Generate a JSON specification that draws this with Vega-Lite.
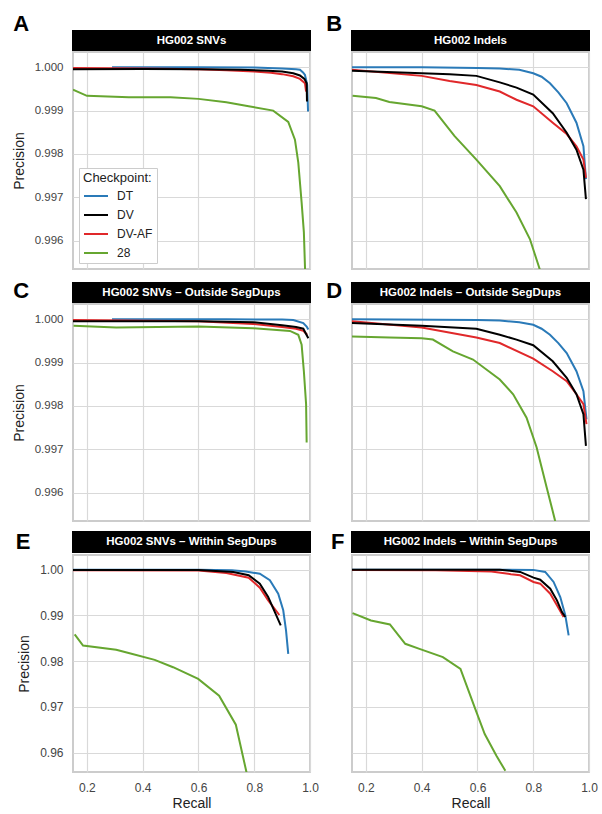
{
  "$schema": "https://vega.github.io/schema/vega-lite/v6.json",
  "padding": {"left": 11, "top": 11, "right": 5, "bottom": 4},
  "config": {
    "font": "Liberation Sans",
    "view": {"stroke": "#cccccc", "strokeWidth": 2},
    "axis": {"grid": true, "gridColor": "#d9d9d9", "gridWidth": 1.2, "ticks": false, "domain": false, "labelFontSize": 12, "labelColor": "#444444", "titleFontSize": 14, "titleFontWeight": "normal", "titleColor": "#222222", "labelPadding": 10, "labelFlush": false, "labelOverlap": false},
    "line": {"strokeWidth": 2, "clip": true}
  },
  "datasets": {
    "A": [
      {"checkpoint": "28", "recall": 0.15, "precision": 0.99948}, {"checkpoint": "28", "recall": 0.2, "precision": 0.99934}, {"checkpoint": "28", "recall": 0.35, "precision": 0.99931}, {"checkpoint": "28", "recall": 0.5, "precision": 0.99931}, {"checkpoint": "28", "recall": 0.6, "precision": 0.99927}, {"checkpoint": "28", "recall": 0.7, "precision": 0.99919}, {"checkpoint": "28", "recall": 0.78, "precision": 0.9991}, {"checkpoint": "28", "recall": 0.868, "precision": 0.999}, {"checkpoint": "28", "recall": 0.922, "precision": 0.99874}, {"checkpoint": "28", "recall": 0.946, "precision": 0.99833}, {"checkpoint": "28", "recall": 0.958, "precision": 0.9978}, {"checkpoint": "28", "recall": 0.97, "precision": 0.99688}, {"checkpoint": "28", "recall": 0.978, "precision": 0.9962}, {"checkpoint": "28", "recall": 0.984, "precision": 0.995},
      {"checkpoint": "DT", "recall": 0.29, "precision": 1.0}, {"checkpoint": "DT", "recall": 0.6, "precision": 1.0}, {"checkpoint": "DT", "recall": 0.8, "precision": 0.99999}, {"checkpoint": "DT", "recall": 0.9, "precision": 0.99997}, {"checkpoint": "DT", "recall": 0.95, "precision": 0.99995}, {"checkpoint": "DT", "recall": 0.964, "precision": 0.99994}, {"checkpoint": "DT", "recall": 0.975, "precision": 0.99988}, {"checkpoint": "DT", "recall": 0.982, "precision": 0.99982}, {"checkpoint": "DT", "recall": 0.99, "precision": 0.99959}, {"checkpoint": "DT", "recall": 0.993, "precision": 0.99898},
      {"checkpoint": "DV-AF", "recall": 0.15, "precision": 0.99998}, {"checkpoint": "DV-AF", "recall": 0.4, "precision": 0.99997}, {"checkpoint": "DV-AF", "recall": 0.6, "precision": 0.99995}, {"checkpoint": "DV-AF", "recall": 0.7, "precision": 0.99993}, {"checkpoint": "DV-AF", "recall": 0.8, "precision": 0.9999}, {"checkpoint": "DV-AF", "recall": 0.86, "precision": 0.99987}, {"checkpoint": "DV-AF", "recall": 0.9, "precision": 0.99984}, {"checkpoint": "DV-AF", "recall": 0.94, "precision": 0.99979}, {"checkpoint": "DV-AF", "recall": 0.964, "precision": 0.99973}, {"checkpoint": "DV-AF", "recall": 0.982, "precision": 0.99963}, {"checkpoint": "DV-AF", "recall": 0.986, "precision": 0.99944},
      {"checkpoint": "DV", "recall": 0.15, "precision": 0.99995}, {"checkpoint": "DV", "recall": 0.4, "precision": 0.99996}, {"checkpoint": "DV", "recall": 0.6, "precision": 0.99995}, {"checkpoint": "DV", "recall": 0.75, "precision": 0.99994}, {"checkpoint": "DV", "recall": 0.85, "precision": 0.99992}, {"checkpoint": "DV", "recall": 0.9, "precision": 0.9999}, {"checkpoint": "DV", "recall": 0.94, "precision": 0.99986}, {"checkpoint": "DV", "recall": 0.964, "precision": 0.99981}, {"checkpoint": "DV", "recall": 0.98, "precision": 0.99973}, {"checkpoint": "DV", "recall": 0.988, "precision": 0.99963}, {"checkpoint": "DV", "recall": 0.9892, "precision": 0.99921}
    ],
    "B": [
      {"checkpoint": "28", "recall": 0.152, "precision": 0.99934}, {"checkpoint": "28", "recall": 0.236, "precision": 0.99929}, {"checkpoint": "28", "recall": 0.284, "precision": 0.9992}, {"checkpoint": "28", "recall": 0.4, "precision": 0.9991}, {"checkpoint": "28", "recall": 0.446, "precision": 0.999}, {"checkpoint": "28", "recall": 0.518, "precision": 0.99841}, {"checkpoint": "28", "recall": 0.596, "precision": 0.99787}, {"checkpoint": "28", "recall": 0.68, "precision": 0.99726}, {"checkpoint": "28", "recall": 0.74, "precision": 0.99665}, {"checkpoint": "28", "recall": 0.788, "precision": 0.99604}, {"checkpoint": "28", "recall": 0.821, "precision": 0.99539}, {"checkpoint": "28", "recall": 0.83, "precision": 0.9952},
      {"checkpoint": "DT", "recall": 0.15, "precision": 1.0}, {"checkpoint": "DT", "recall": 0.4, "precision": 1.0}, {"checkpoint": "DT", "recall": 0.6, "precision": 0.99998}, {"checkpoint": "DT", "recall": 0.68, "precision": 0.99997}, {"checkpoint": "DT", "recall": 0.75, "precision": 0.99994}, {"checkpoint": "DT", "recall": 0.8, "precision": 0.99986}, {"checkpoint": "DT", "recall": 0.83, "precision": 0.99978}, {"checkpoint": "DT", "recall": 0.86, "precision": 0.99963}, {"checkpoint": "DT", "recall": 0.89, "precision": 0.99942}, {"checkpoint": "DT", "recall": 0.92, "precision": 0.99917}, {"checkpoint": "DT", "recall": 0.955, "precision": 0.99872}, {"checkpoint": "DT", "recall": 0.98, "precision": 0.99818}, {"checkpoint": "DT", "recall": 0.989, "precision": 0.99742},
      {"checkpoint": "DV-AF", "recall": 0.15, "precision": 0.99994}, {"checkpoint": "DV-AF", "recall": 0.4, "precision": 0.9998}, {"checkpoint": "DV-AF", "recall": 0.5, "precision": 0.99968}, {"checkpoint": "DV-AF", "recall": 0.596, "precision": 0.99959}, {"checkpoint": "DV-AF", "recall": 0.68, "precision": 0.99944}, {"checkpoint": "DV-AF", "recall": 0.74, "precision": 0.99925}, {"checkpoint": "DV-AF", "recall": 0.8, "precision": 0.9991}, {"checkpoint": "DV-AF", "recall": 0.87, "precision": 0.99872}, {"checkpoint": "DV-AF", "recall": 0.92, "precision": 0.99846}, {"checkpoint": "DV-AF", "recall": 0.955, "precision": 0.99818}, {"checkpoint": "DV-AF", "recall": 0.98, "precision": 0.99787}, {"checkpoint": "DV-AF", "recall": 0.989, "precision": 0.99745},
      {"checkpoint": "DV", "recall": 0.15, "precision": 0.99992}, {"checkpoint": "DV", "recall": 0.4, "precision": 0.99986}, {"checkpoint": "DV", "recall": 0.5, "precision": 0.99984}, {"checkpoint": "DV", "recall": 0.596, "precision": 0.9998}, {"checkpoint": "DV", "recall": 0.68, "precision": 0.99965}, {"checkpoint": "DV", "recall": 0.74, "precision": 0.99953}, {"checkpoint": "DV", "recall": 0.8, "precision": 0.99937}, {"checkpoint": "DV", "recall": 0.87, "precision": 0.99894}, {"checkpoint": "DV", "recall": 0.92, "precision": 0.99849}, {"checkpoint": "DV", "recall": 0.955, "precision": 0.9981}, {"checkpoint": "DV", "recall": 0.98, "precision": 0.99764}, {"checkpoint": "DV", "recall": 0.989, "precision": 0.99696}
    ],
    "C": [
      {"checkpoint": "28", "recall": 0.152, "precision": 0.99985}, {"checkpoint": "28", "recall": 0.305, "precision": 0.99981}, {"checkpoint": "28", "recall": 0.6, "precision": 0.99983}, {"checkpoint": "28", "recall": 0.796, "precision": 0.99979}, {"checkpoint": "28", "recall": 0.928, "precision": 0.99973}, {"checkpoint": "28", "recall": 0.958, "precision": 0.99964}, {"checkpoint": "28", "recall": 0.97, "precision": 0.99941}, {"checkpoint": "28", "recall": 0.978, "precision": 0.9988}, {"checkpoint": "28", "recall": 0.986, "precision": 0.99804}, {"checkpoint": "28", "recall": 0.988, "precision": 0.99716},
      {"checkpoint": "DT", "recall": 0.29, "precision": 1.0}, {"checkpoint": "DT", "recall": 0.7, "precision": 1.0}, {"checkpoint": "DT", "recall": 0.9, "precision": 0.99999}, {"checkpoint": "DT", "recall": 0.94, "precision": 0.99998}, {"checkpoint": "DT", "recall": 0.976, "precision": 0.99991}, {"checkpoint": "DT", "recall": 0.988, "precision": 0.99983}, {"checkpoint": "DT", "recall": 0.994, "precision": 0.99976},
      {"checkpoint": "DV-AF", "recall": 0.15, "precision": 0.99998}, {"checkpoint": "DV-AF", "recall": 0.6, "precision": 0.99995}, {"checkpoint": "DV-AF", "recall": 0.796, "precision": 0.99989}, {"checkpoint": "DV-AF", "recall": 0.9, "precision": 0.99982}, {"checkpoint": "DV-AF", "recall": 0.95, "precision": 0.99978}, {"checkpoint": "DV-AF", "recall": 0.976, "precision": 0.99973}, {"checkpoint": "DV-AF", "recall": 0.99, "precision": 0.99964},
      {"checkpoint": "DV", "recall": 0.15, "precision": 0.99995}, {"checkpoint": "DV", "recall": 0.6, "precision": 0.99995}, {"checkpoint": "DV", "recall": 0.796, "precision": 0.99993}, {"checkpoint": "DV", "recall": 0.9, "precision": 0.99986}, {"checkpoint": "DV", "recall": 0.95, "precision": 0.99982}, {"checkpoint": "DV", "recall": 0.976, "precision": 0.99978}, {"checkpoint": "DV", "recall": 0.994, "precision": 0.99956}
    ],
    "D": [
      {"checkpoint": "28", "recall": 0.15, "precision": 0.9996}, {"checkpoint": "28", "recall": 0.284, "precision": 0.99958}, {"checkpoint": "28", "recall": 0.4, "precision": 0.99956}, {"checkpoint": "28", "recall": 0.44, "precision": 0.99953}, {"checkpoint": "28", "recall": 0.512, "precision": 0.99926}, {"checkpoint": "28", "recall": 0.584, "precision": 0.99907}, {"checkpoint": "28", "recall": 0.68, "precision": 0.99861}, {"checkpoint": "28", "recall": 0.728, "precision": 0.99827}, {"checkpoint": "28", "recall": 0.776, "precision": 0.99773}, {"checkpoint": "28", "recall": 0.812, "precision": 0.99705}, {"checkpoint": "28", "recall": 0.848, "precision": 0.99613}, {"checkpoint": "28", "recall": 0.878, "precision": 0.99537}, {"checkpoint": "28", "recall": 0.882, "precision": 0.9952},
      {"checkpoint": "DT", "recall": 0.15, "precision": 1.0}, {"checkpoint": "DT", "recall": 0.6, "precision": 0.99998}, {"checkpoint": "DT", "recall": 0.68, "precision": 0.99997}, {"checkpoint": "DT", "recall": 0.75, "precision": 0.99993}, {"checkpoint": "DT", "recall": 0.8, "precision": 0.99987}, {"checkpoint": "DT", "recall": 0.83, "precision": 0.99978}, {"checkpoint": "DT", "recall": 0.86, "precision": 0.99964}, {"checkpoint": "DT", "recall": 0.89, "precision": 0.99945}, {"checkpoint": "DT", "recall": 0.92, "precision": 0.99922}, {"checkpoint": "DT", "recall": 0.955, "precision": 0.9988}, {"checkpoint": "DT", "recall": 0.98, "precision": 0.99834}, {"checkpoint": "DT", "recall": 0.991, "precision": 0.99769},
      {"checkpoint": "DV-AF", "recall": 0.15, "precision": 0.99995}, {"checkpoint": "DV-AF", "recall": 0.4, "precision": 0.99981}, {"checkpoint": "DV-AF", "recall": 0.596, "precision": 0.99958}, {"checkpoint": "DV-AF", "recall": 0.68, "precision": 0.99945}, {"checkpoint": "DV-AF", "recall": 0.8, "precision": 0.99909}, {"checkpoint": "DV-AF", "recall": 0.87, "precision": 0.9988}, {"checkpoint": "DV-AF", "recall": 0.92, "precision": 0.99857}, {"checkpoint": "DV-AF", "recall": 0.955, "precision": 0.99827}, {"checkpoint": "DV-AF", "recall": 0.98, "precision": 0.99804}, {"checkpoint": "DV-AF", "recall": 0.991, "precision": 0.99758},
      {"checkpoint": "DV", "recall": 0.15, "precision": 0.99991}, {"checkpoint": "DV", "recall": 0.4, "precision": 0.99985}, {"checkpoint": "DV", "recall": 0.596, "precision": 0.99978}, {"checkpoint": "DV", "recall": 0.68, "precision": 0.99964}, {"checkpoint": "DV", "recall": 0.74, "precision": 0.99953}, {"checkpoint": "DV", "recall": 0.8, "precision": 0.9994}, {"checkpoint": "DV", "recall": 0.87, "precision": 0.99903}, {"checkpoint": "DV", "recall": 0.92, "precision": 0.99865}, {"checkpoint": "DV", "recall": 0.955, "precision": 0.99827}, {"checkpoint": "DV", "recall": 0.98, "precision": 0.99781}, {"checkpoint": "DV", "recall": 0.989, "precision": 0.99708}
    ],
    "E": [
      {"checkpoint": "28", "recall": 0.156, "precision": 0.98584}, {"checkpoint": "28", "recall": 0.186, "precision": 0.98343}, {"checkpoint": "28", "recall": 0.305, "precision": 0.98248}, {"checkpoint": "28", "recall": 0.353, "precision": 0.98175}, {"checkpoint": "28", "recall": 0.443, "precision": 0.98029}, {"checkpoint": "28", "recall": 0.509, "precision": 0.97869}, {"checkpoint": "28", "recall": 0.599, "precision": 0.97613}, {"checkpoint": "28", "recall": 0.674, "precision": 0.97248}, {"checkpoint": "28", "recall": 0.734, "precision": 0.96613}, {"checkpoint": "28", "recall": 0.775, "precision": 0.955},
      {"checkpoint": "DT", "recall": 0.15, "precision": 1.0}, {"checkpoint": "DT", "recall": 0.6, "precision": 1.0}, {"checkpoint": "DT", "recall": 0.72, "precision": 0.99985}, {"checkpoint": "DT", "recall": 0.77, "precision": 0.9996}, {"checkpoint": "DT", "recall": 0.82, "precision": 0.9991}, {"checkpoint": "DT", "recall": 0.856, "precision": 0.99768}, {"checkpoint": "DT", "recall": 0.886, "precision": 0.99475}, {"checkpoint": "DT", "recall": 0.904, "precision": 0.99112}, {"checkpoint": "DT", "recall": 0.914, "precision": 0.98674}, {"checkpoint": "DT", "recall": 0.922, "precision": 0.98162},
      {"checkpoint": "DV-AF", "recall": 0.15, "precision": 0.99985}, {"checkpoint": "DV-AF", "recall": 0.6, "precision": 0.9998}, {"checkpoint": "DV-AF", "recall": 0.7, "precision": 0.99927}, {"checkpoint": "DV-AF", "recall": 0.78, "precision": 0.99825}, {"checkpoint": "DV-AF", "recall": 0.82, "precision": 0.99606}, {"checkpoint": "DV-AF", "recall": 0.85, "precision": 0.9933}, {"checkpoint": "DV-AF", "recall": 0.89, "precision": 0.99009},
      {"checkpoint": "DV", "recall": 0.15, "precision": 0.99995}, {"checkpoint": "DV", "recall": 0.6, "precision": 0.99995}, {"checkpoint": "DV", "recall": 0.725, "precision": 0.99949}, {"checkpoint": "DV", "recall": 0.78, "precision": 0.99877}, {"checkpoint": "DV", "recall": 0.82, "precision": 0.99694}, {"checkpoint": "DV", "recall": 0.85, "precision": 0.99403}, {"checkpoint": "DV", "recall": 0.874, "precision": 0.99074}, {"checkpoint": "DV", "recall": 0.895, "precision": 0.98783}
    ],
    "F": [
      {"checkpoint": "28", "recall": 0.152, "precision": 0.99051}, {"checkpoint": "28", "recall": 0.218, "precision": 0.98891}, {"checkpoint": "28", "recall": 0.286, "precision": 0.98803}, {"checkpoint": "28", "recall": 0.341, "precision": 0.9838}, {"checkpoint": "28", "recall": 0.392, "precision": 0.9827}, {"checkpoint": "28", "recall": 0.476, "precision": 0.98088}, {"checkpoint": "28", "recall": 0.539, "precision": 0.97832}, {"checkpoint": "28", "recall": 0.59, "precision": 0.96993}, {"checkpoint": "28", "recall": 0.626, "precision": 0.96409}, {"checkpoint": "28", "recall": 0.668, "precision": 0.95934}, {"checkpoint": "28", "recall": 0.7, "precision": 0.95606},
      {"checkpoint": "DT", "recall": 0.15, "precision": 1.0}, {"checkpoint": "DT", "recall": 0.8, "precision": 0.99995}, {"checkpoint": "DT", "recall": 0.843, "precision": 0.9995}, {"checkpoint": "DT", "recall": 0.873, "precision": 0.99731}, {"checkpoint": "DT", "recall": 0.897, "precision": 0.99403}, {"checkpoint": "DT", "recall": 0.915, "precision": 0.99002}, {"checkpoint": "DT", "recall": 0.927, "precision": 0.98565},
      {"checkpoint": "DV-AF", "recall": 0.15, "precision": 0.99995}, {"checkpoint": "DV-AF", "recall": 0.45, "precision": 0.99985}, {"checkpoint": "DV-AF", "recall": 0.65, "precision": 0.9996}, {"checkpoint": "DV-AF", "recall": 0.72, "precision": 0.999}, {"checkpoint": "DV-AF", "recall": 0.753, "precision": 0.99877}, {"checkpoint": "DV-AF", "recall": 0.801, "precision": 0.99731}, {"checkpoint": "DV-AF", "recall": 0.825, "precision": 0.99694}, {"checkpoint": "DV-AF", "recall": 0.861, "precision": 0.99475}, {"checkpoint": "DV-AF", "recall": 0.885, "precision": 0.99221}, {"checkpoint": "DV-AF", "recall": 0.909, "precision": 0.98964},
      {"checkpoint": "DV", "recall": 0.15, "precision": 1.0}, {"checkpoint": "DV", "recall": 0.68, "precision": 1.0}, {"checkpoint": "DV", "recall": 0.753, "precision": 0.9995}, {"checkpoint": "DV", "recall": 0.801, "precision": 0.99825}, {"checkpoint": "DV", "recall": 0.825, "precision": 0.99781}, {"checkpoint": "DV", "recall": 0.861, "precision": 0.99584}, {"checkpoint": "DV", "recall": 0.885, "precision": 0.9933}, {"checkpoint": "DV", "recall": 0.903, "precision": 0.99074}, {"checkpoint": "DV", "recall": 0.915, "precision": 0.98965}
    ]
  },
  "resolve": {"scale": {"color": "independent", "x": "independent", "y": "independent"}, "legend": {"color": "independent"}},
  "spacing": 5,
  "hconcat": [
    {
      "spacing": 8,
      "resolve": {"scale": {"color": "independent", "x": "independent", "y": "independent"}, "legend": {"color": "independent"}},
      "vconcat": [
        {
          "spacing": 0,
          "resolve": {"scale": {"color": "independent", "x": "independent", "y": "independent"}, "legend": {"color": "independent"}},
          "vconcat": [
            {"width": 237, "height": 19, "view": {"fill": "black", "stroke": "black", "strokeWidth": 2},
             "title": {"text": "A", "orient": "left", "angle": 0, "align": "right", "baseline": "middle", "anchor": "middle", "offset": 28, "dy": -17, "fontSize": 22, "fontWeight": "bold", "color": "#000000"},
             "data": {"values": [{"t": "HG002 SNVs"}]},
             "mark": {"type": "text", "color": "white", "fontWeight": "bold", "fontSize": 11.5, "baseline": "middle"},
             "encoding": {"text": {"field": "t"}}},
            {"width": 237, "height": 217, "data": {"name": "A"},
             "mark": {"type": "line", "strokeWidth": 2, "clip": true},
             "encoding": {
               "x": {"field": "recall", "type": "quantitative", "scale": {"domain": [0.15, 1.0], "nice": false, "zero": false}, "axis": {"values": [0.2, 0.4, 0.6, 0.8, 1.0], "labels": false, "title": null}},
               "y": {"field": "precision", "type": "quantitative", "scale": {"domain": [0.99535, 1.00035], "nice": false, "zero": false}, "axis": {"values": [0.996, 0.997, 0.998, 0.999, 1.0], "format": ".3f", "title": "Precision", "labelFontSize": 11.5, "titlePadding": 8}},
               "color": {"field": "checkpoint", "type": "nominal", "scale": {"domain": ["DT", "DV", "DV-AF", "28"], "range": ["#2a7ab8", "#000000", "#e0282a", "#66a630"]},
                 "legend": {"orient": "bottom-left", "offset": 6, "title": "Checkpoint:", "titleFontSize": 13, "titleFontWeight": "normal", "titleColor": "#222222", "titlePadding": -2, "labelFontSize": 12, "labelColor": "#222222", "labelOffset": 8, "symbolType": "stroke", "symbolSize": 576, "symbolStrokeWidth": 2.5, "fillColor": "white", "strokeColor": "#cccccc", "padding": 4, "rowPadding": -3.2, "cornerRadius": 0}}
             }}
          ]
        },
        {
          "spacing": 0,
          "resolve": {"scale": {"color": "independent", "x": "independent", "y": "independent"}, "legend": {"color": "independent"}},
          "vconcat": [
            {"width": 237, "height": 19, "view": {"fill": "black", "stroke": "black", "strokeWidth": 2},
             "title": {"text": "C", "orient": "left", "angle": 0, "align": "right", "baseline": "middle", "anchor": "middle", "offset": 28, "dy": -2, "fontSize": 22, "fontWeight": "bold", "color": "#000000"},
             "data": {"values": [{"t": "HG002 SNVs – Outside SegDups"}]},
             "mark": {"type": "text", "color": "white", "fontWeight": "bold", "fontSize": 11.5, "baseline": "middle"},
             "encoding": {"text": {"field": "t"}}},
            {"width": 237, "height": 217, "data": {"name": "C"},
             "mark": {"type": "line", "strokeWidth": 2, "clip": true},
             "encoding": {
               "x": {"field": "recall", "type": "quantitative", "scale": {"domain": [0.15, 1.0], "nice": false, "zero": false}, "axis": {"values": [0.2, 0.4, 0.6, 0.8, 1.0], "labels": false, "title": null}},
               "y": {"field": "precision", "type": "quantitative", "scale": {"domain": [0.99535, 1.00035], "nice": false, "zero": false}, "axis": {"values": [0.996, 0.997, 0.998, 0.999, 1.0], "format": ".3f", "title": "Precision", "labelFontSize": 11.5, "titlePadding": 8}},
               "color": {"field": "checkpoint", "type": "nominal", "scale": {"domain": ["DT", "DV", "DV-AF", "28"], "range": ["#2a7ab8", "#000000", "#e0282a", "#66a630"]}, "legend": null}
             }}
          ]
        },
        {
          "spacing": 0,
          "resolve": {"scale": {"color": "independent", "x": "independent", "y": "independent"}, "legend": {"color": "independent"}},
          "vconcat": [
            {"width": 237, "height": 20, "view": {"fill": "black", "stroke": "black", "strokeWidth": 2},
             "title": {"text": "E", "orient": "left", "angle": 0, "align": "right", "baseline": "middle", "anchor": "middle", "offset": 28, "dy": 0, "fontSize": 22, "fontWeight": "bold", "color": "#000000"},
             "data": {"values": [{"t": "HG002 SNVs – Within SegDups"}]},
             "mark": {"type": "text", "color": "white", "fontWeight": "bold", "fontSize": 11.5, "baseline": "middle"},
             "encoding": {"text": {"field": "t"}}},
            {"width": 237, "height": 217, "data": {"name": "E"},
             "mark": {"type": "line", "strokeWidth": 2, "clip": true},
             "encoding": {
               "x": {"field": "recall", "type": "quantitative", "scale": {"domain": [0.15, 1.0], "nice": false, "zero": false}, "axis": {"values": [0.2, 0.4, 0.6, 0.8, 1.0], "format": ".1f", "title": "Recall", "titlePadding": 3}},
               "y": {"field": "precision", "type": "quantitative", "scale": {"domain": [0.9558, 1.0032], "nice": false, "zero": false}, "axis": {"values": [0.96, 0.97, 0.98, 0.99, 1.0], "format": ".2f", "title": "Precision", "labelFontSize": 12, "titlePadding": 8}},
               "color": {"field": "checkpoint", "type": "nominal", "scale": {"domain": ["DT", "DV", "DV-AF", "28"], "range": ["#2a7ab8", "#000000", "#e0282a", "#66a630"]}, "legend": null}
             }}
          ]
        }
      ]
    },
    {
      "spacing": 8,
      "resolve": {"scale": {"color": "independent", "x": "independent", "y": "independent"}, "legend": {"color": "independent"}},
      "vconcat": [
        {
          "spacing": 0,
          "resolve": {"scale": {"color": "independent", "x": "independent", "y": "independent"}, "legend": {"color": "independent"}},
          "vconcat": [
            {"width": 237, "height": 19, "view": {"fill": "black", "stroke": "black", "strokeWidth": 2},
             "title": {"text": "B", "orient": "left", "angle": 0, "align": "right", "baseline": "middle", "anchor": "middle", "offset": 0, "dx": 6, "dy": -17, "fontSize": 22, "fontWeight": "bold", "color": "#000000"},
             "data": {"values": [{"t": "HG002 Indels"}]},
             "mark": {"type": "text", "color": "white", "fontWeight": "bold", "fontSize": 11.5, "baseline": "middle"},
             "encoding": {"text": {"field": "t"}}},
            {"width": 237, "height": 217, "data": {"name": "B"},
             "mark": {"type": "line", "strokeWidth": 2, "clip": true},
             "encoding": {
               "x": {"field": "recall", "type": "quantitative", "scale": {"domain": [0.15, 1.0], "nice": false, "zero": false}, "axis": {"values": [0.2, 0.4, 0.6, 0.8, 1.0], "labels": false, "title": null}},
               "y": {"field": "precision", "type": "quantitative", "scale": {"domain": [0.99535, 1.00035], "nice": false, "zero": false}, "axis": {"values": [0.996, 0.997, 0.998, 0.999, 1.0], "labels": false, "title": null}},
               "color": {"field": "checkpoint", "type": "nominal", "scale": {"domain": ["DT", "DV", "DV-AF", "28"], "range": ["#2a7ab8", "#000000", "#e0282a", "#66a630"]}, "legend": null}
             }}
          ]
        },
        {
          "spacing": 0,
          "resolve": {"scale": {"color": "independent", "x": "independent", "y": "independent"}, "legend": {"color": "independent"}},
          "vconcat": [
            {"width": 237, "height": 19, "view": {"fill": "black", "stroke": "black", "strokeWidth": 2},
             "title": {"text": "D", "orient": "left", "angle": 0, "align": "right", "baseline": "middle", "anchor": "middle", "offset": 0, "dx": 6, "dy": -2, "fontSize": 22, "fontWeight": "bold", "color": "#000000"},
             "data": {"values": [{"t": "HG002 Indels – Outside SegDups"}]},
             "mark": {"type": "text", "color": "white", "fontWeight": "bold", "fontSize": 11.5, "baseline": "middle"},
             "encoding": {"text": {"field": "t"}}},
            {"width": 237, "height": 217, "data": {"name": "D"},
             "mark": {"type": "line", "strokeWidth": 2, "clip": true},
             "encoding": {
               "x": {"field": "recall", "type": "quantitative", "scale": {"domain": [0.15, 1.0], "nice": false, "zero": false}, "axis": {"values": [0.2, 0.4, 0.6, 0.8, 1.0], "labels": false, "title": null}},
               "y": {"field": "precision", "type": "quantitative", "scale": {"domain": [0.99535, 1.00035], "nice": false, "zero": false}, "axis": {"values": [0.996, 0.997, 0.998, 0.999, 1.0], "labels": false, "title": null}},
               "color": {"field": "checkpoint", "type": "nominal", "scale": {"domain": ["DT", "DV", "DV-AF", "28"], "range": ["#2a7ab8", "#000000", "#e0282a", "#66a630"]}, "legend": null}
             }}
          ]
        },
        {
          "spacing": 0,
          "resolve": {"scale": {"color": "independent", "x": "independent", "y": "independent"}, "legend": {"color": "independent"}},
          "vconcat": [
            {"width": 237, "height": 20, "view": {"fill": "black", "stroke": "black", "strokeWidth": 2},
             "title": {"text": "F", "orient": "left", "angle": 0, "align": "right", "baseline": "middle", "anchor": "middle", "offset": 0, "dx": 6, "dy": 0, "fontSize": 22, "fontWeight": "bold", "color": "#000000"},
             "data": {"values": [{"t": "HG002 Indels – Within SegDups"}]},
             "mark": {"type": "text", "color": "white", "fontWeight": "bold", "fontSize": 11.5, "baseline": "middle"},
             "encoding": {"text": {"field": "t"}}},
            {"width": 237, "height": 217, "data": {"name": "F"},
             "mark": {"type": "line", "strokeWidth": 2, "clip": true},
             "encoding": {
               "x": {"field": "recall", "type": "quantitative", "scale": {"domain": [0.15, 1.0], "nice": false, "zero": false}, "axis": {"values": [0.2, 0.4, 0.6, 0.8, 1.0], "format": ".1f", "title": "Recall", "titlePadding": 3}},
               "y": {"field": "precision", "type": "quantitative", "scale": {"domain": [0.9558, 1.0032], "nice": false, "zero": false}, "axis": {"values": [0.96, 0.97, 0.98, 0.99, 1.0], "labels": false, "title": null}},
               "color": {"field": "checkpoint", "type": "nominal", "scale": {"domain": ["DT", "DV", "DV-AF", "28"], "range": ["#2a7ab8", "#000000", "#e0282a", "#66a630"]}, "legend": null}
             }}
          ]
        }
      ]
    }
  ]
}
